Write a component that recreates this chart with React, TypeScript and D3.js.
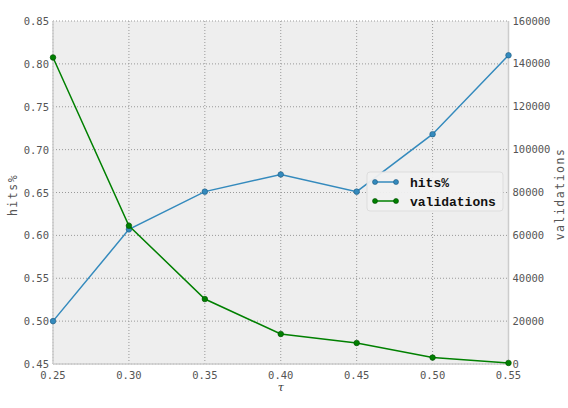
import React from "react";
import * as d3 from "d3";

const taus = [0.25, 0.3, 0.35, 0.4, 0.45, 0.5, 0.55];
const hits = [0.5, 0.607, 0.651, 0.671, 0.651, 0.718, 0.81];
const validations = [143000, 64500, 30300, 14000, 9800, 3000, 500];
const xTicks = [0.25, 0.3, 0.35, 0.4, 0.45, 0.5, 0.55];
const yTicks = [0.45, 0.5, 0.55, 0.6, 0.65, 0.7, 0.75, 0.8, 0.85];
const y2Ticks = [0, 20000, 40000, 60000, 80000, 100000, 120000, 140000, 160000];

const W = 568, H = 408;
const L = 53, R = 508.5, T = 21, B = 364;
const mono = "'DejaVu Sans Mono', monospace";
const blue = "#348abd";
const green = "#008000";

export default function App() {
  const x = d3.scaleLinear().domain([0.25, 0.55]).range([L, R]);
  const y = d3.scaleLinear().domain([0.45, 0.85]).range([B, T]);
  const y2 = d3.scaleLinear().domain([0, 160000]).range([B, T]);
  const lineH = d3.line<number>().x((_, i) => x(taus[i])).y((d) => y(d));
  const lineV = d3.line<number>().x((_, i) => x(taus[i])).y((d) => y2(d));
  return (
    <svg width={W} height={H} style={{ position: "absolute", left: 0, top: 0 }}>
      <rect x={0} y={0} width={W} height={H} fill="#fff" />
      <rect x={L} y={T} width={R - L} height={B - T} fill="#eeeeee" />
      {xTicks.map((t) => (
        <line key={"gx" + t} x1={x(t)} x2={x(t)} y1={T} y2={B} stroke="#999" strokeWidth={1} strokeDasharray="1,2" />
      ))}
      {yTicks.map((t) => (
        <line key={"gy" + t} x1={L} x2={R} y1={y(t)} y2={y(t)} stroke="#999" strokeWidth={1} strokeDasharray="1,2" />
      ))}
      <line x1={L} x2={L} y1={T} y2={B} stroke="#cccccc" strokeWidth={1.5} />
      <line x1={R} x2={R} y1={T} y2={B} stroke="#cccccc" strokeWidth={1.5} />
      <line x1={L} x2={R} y1={B} y2={B} stroke="#cccccc" strokeWidth={1.5} />
      <path d={lineH(hits) || ""} fill="none" stroke={blue} strokeWidth={1.5} />
      {hits.map((d, i) => (
        <circle key={"h" + i} cx={x(taus[i])} cy={y(d)} r={2.8} fill={blue} stroke="#1f5a80" strokeWidth={0.6} />
      ))}
      <path d={lineV(validations) || ""} fill="none" stroke={green} strokeWidth={1.5} />
      {validations.map((d, i) => (
        <circle key={"v" + i} cx={x(taus[i])} cy={y2(d)} r={2.8} fill={green} stroke="#004d00" strokeWidth={0.6} />
      ))}
      {xTicks.map((t) => (
        <text key={"tx" + t} x={x(t)} y={B + 15} textAnchor="middle" fontFamily={mono} fontSize={10.5} fill="#555">
          {t.toFixed(2)}
        </text>
      ))}
      {yTicks.map((t) => (
        <text key={"ty" + t} x={L - 4} y={y(t) + 4} textAnchor="end" fontFamily={mono} fontSize={10.5} fill="#555">
          {t.toFixed(2)}
        </text>
      ))}
      {y2Ticks.map((t) => (
        <text key={"ty2" + t} x={R + 4} y={y2(t) + 3.5} textAnchor="start" fontFamily={mono} fontSize={10.5} fill="#555">
          {String(t)}
        </text>
      ))}
      <text x={(L + R) / 2} y={391} textAnchor="middle" fontFamily="'DejaVu Serif', serif" fontStyle="italic" fontSize={11} fill="#333">τ</text>
      <text transform={`translate(17,195) rotate(-90)`} textAnchor="middle" fontFamily={mono} fontSize={11.5} letterSpacing={1.5} fill="#555">hits%</text>
      <text transform={`translate(564,194) rotate(-90)`} textAnchor="middle" fontFamily={mono} fontSize={11.5} letterSpacing={1.5} fill="#555">validations</text>
      <g>
        <rect x={367} y={172} width={136} height={39} rx={3} fill="#f0f0f0" fillOpacity={0.95} stroke="#dddddd" strokeWidth={1} />
        <line x1={375} x2={396} y1={182} y2={182} stroke={blue} strokeWidth={1.5} />
        <circle cx={375} cy={182} r={2.5} fill={blue} stroke="#1f5a80" strokeWidth={0.6} />
        <circle cx={396} cy={182} r={2.5} fill={blue} stroke="#1f5a80" strokeWidth={0.6} />
        <text x={410} y={186.5} fontFamily="'Liberation Mono', monospace" fontWeight="bold" fontSize={13} fill="#111">hits%</text>
        <line x1={375} x2={396} y1={201} y2={201} stroke={green} strokeWidth={1.5} />
        <circle cx={375} cy={201} r={2.5} fill={green} stroke="#004d00" strokeWidth={0.6} />
        <circle cx={396} cy={201} r={2.5} fill={green} stroke="#004d00" strokeWidth={0.6} />
        <text x={410} y={205.5} fontFamily="'Liberation Mono', monospace" fontWeight="bold" fontSize={13} fill="#111">validations</text>
      </g>
    </svg>
  );
}
